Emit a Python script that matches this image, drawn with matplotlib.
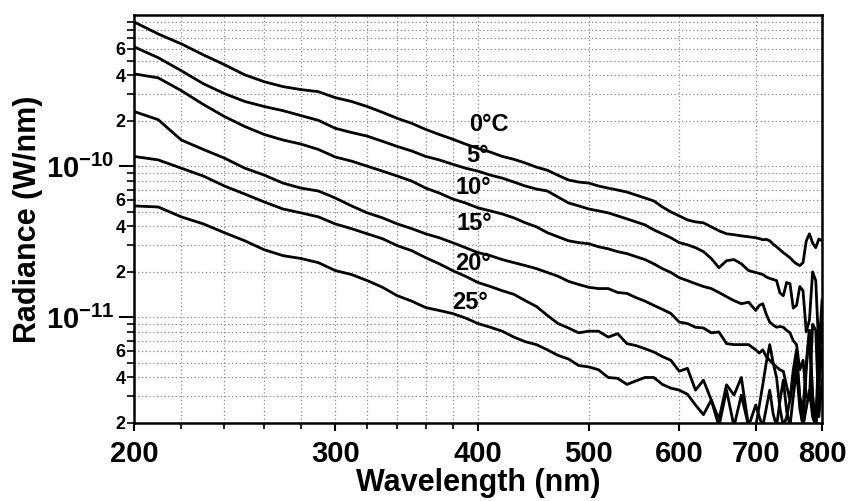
import numpy as np
import matplotlib
matplotlib.use('Agg')
import matplotlib.pyplot as plt
from matplotlib.ticker import FixedLocator, FixedFormatter, NullFormatter

plt.rcParams['font.family'] = ['Liberation Sans', 'DejaVu Sans']
plt.rcParams['font.weight'] = 'bold'
plt.rcParams['mathtext.fontset'] = 'custom'
plt.rcParams['mathtext.rm'] = 'Liberation Sans:bold'
plt.rcParams['mathtext.bf'] = 'Liberation Sans:bold'
plt.rcParams['mathtext.it'] = 'Liberation Sans:bold'

# wavelength grid (nm)
wl = np.array([200, 210, 220, 230, 240, 250, 260, 270, 280, 290,
               300, 310, 320, 330, 340, 350, 360, 370, 380, 390,
               400, 410, 420, 430, 440, 450, 460, 470, 480, 490,
               500, 510, 520, 530, 540, 550, 560, 570, 580, 590,
               600, 610, 620, 630, 640, 650, 660, 670, 680, 690,
               700, 705, 710, 715, 720, 725, 730, 735, 740, 745,
               750, 755, 760, 765, 770, 775, 780, 785, 790, 795, 800])

# radiance in units of 1e-12 W/nm
r0 = [900, 749, 644, 545, 469, 402, 362, 336, 321, 311,
      284, 268, 248, 227, 207, 192, 175, 162, 151, 140,
      131, 124, 116, 111, 105, 98.5, 94, 87, 81, 78.5,
      77.3, 73.9, 71.6, 69.5, 67.4, 64.4, 61.6, 58.9, 53.7, 49.8,
      46.9, 44.1, 42.8, 42.2, 39.7, 37.4, 35.7, 35.2, 34.6, 34.1,
      33.6, 33.2, 32.6, 32.8, 32.1, 30.5, 29.3, 28.0, 26.8, 25.8,
      24.8, 23.5, 22.6, 22.0, 23.0, 32.0, 35.7, 31.0, 28.9, 33.0, 32.1]
r5 = [616, 522, 428, 351, 302, 268, 248, 233, 216, 201,
      178, 167, 158, 146, 135, 126, 116, 110, 103, 97,
      92.7, 87.3, 83.4, 78.5, 73.9, 70.6, 68.5, 62.5, 57.1, 54.6,
      52.1, 50.6, 49.1, 46.9, 44.8, 42.8, 40.9, 37.9, 35.7, 33.6,
      31.2, 30.2, 28.9, 27.2, 24.5, 21.3, 23.7, 24.1, 22.6, 20.4,
      19.8, 19.5, 19.2, 18.5, 18.1, 17.8, 17.5, 14.5, 13.9, 17.0,
      16.7, 11.5, 12.0, 16.0, 15.0, 8.0, 9.6, 20.0, 17.5, 6.0, 12.9]
r10 = [408, 384, 316, 256, 213, 183, 162, 149, 140, 129,
       115, 108, 100, 92.7, 86, 79.7, 71.6, 66.4, 60.7, 57.1,
       53, 50.6, 48.3, 45.5, 42.2, 39.7, 36.3, 34.1, 32.1, 31.2,
       30.7, 29.3, 28.4, 27.2, 26.4, 25.2, 24.1, 22.6, 21.0, 19.8,
       18.3, 17.5, 16.7, 16.0, 15.5, 14.6, 13.7, 12.9, 12.3, 12.6,
       11.1, 12.0, 12.3, 10.5, 9.3, 8.9, 8.6, 8.7, 8.6, 8.2,
       7.9, 7.0, 6.6, 4.5, 5.2, 3.0, 2.84, 9.0, 8.2, 2.2, 3.84]
r15 = [230, 203, 149, 129, 113, 97, 87.3, 77.3, 71.6, 68.5,
       61.6, 54.6, 49.1, 45.5, 41.5, 38.6, 35.7, 33.6, 31.2, 28.9,
       26.8, 25.6, 24.1, 23.0, 22.0, 21.0, 19.8, 18.7, 17.3, 16.5,
       15.8, 15.5, 15.5, 14.6, 14.4, 13.5, 12.8, 12.0, 11.3, 10.6,
       9.3, 9.1, 8.6, 8.5, 7.9, 8.0, 6.7, 6.6, 6.6, 6.6,
       6.1, 5.8, 6.1, 5.5, 5.2, 4.9, 4.7, 4.5, 4.4, 3.5,
       2.84, 4.5, 6.1, 3.0, 2.44, 5.0, 8.2, 3.0, 1.9, 7.0, 5.2]
r20 = [116, 110, 97, 86, 73.9, 65.4, 58, 52.1, 49.1, 46.2,
       41.5, 38.6, 35.7, 33.1, 29.8, 27.6, 24.8, 22.6, 20.4, 18.7,
       17.0, 16.0, 15.0, 14.2, 12.9, 11.8, 10.3, 9.1, 8.5, 7.9,
       8.1, 8.1, 7.4, 7.8, 6.7, 6.5, 6.2, 5.9, 5.5, 5.2,
       4.4, 4.6, 3.3, 3.84, 2.84, 2.11, 3.58, 3.06, 4.0, 1.9,
       1.9, 2.6, 3.58, 5.0, 6.6, 5.0, 4.0, 2.5, 1.9, 2.2,
       2.84, 4.0, 5.2, 2.8, 1.9, 4.5, 8.2, 3.0, 1.9, 5.0, 9.6]
r25 = [54.6, 53.7, 46.2, 41.5, 36.3, 32.1, 28.0, 25.6, 24.5, 23.0,
       20.4, 19.2, 17.5, 15.8, 13.9, 12.8, 11.6, 11.1, 10.6, 9.9,
       9.1, 8.6, 8.1, 7.4, 6.9, 6.6, 6.1, 5.6, 5.3, 4.8,
       4.7, 4.5, 4.0, 3.95, 3.6, 3.8, 4.0, 4.0, 3.6, 3.4,
       3.3, 3.1, 2.63, 2.27, 2.84, 1.9, 3.3, 1.9, 3.06, 1.9,
       2.63, 2.2, 1.9, 2.5, 3.3, 2.3, 1.9, 2.8, 3.84, 2.4,
       1.9, 3.0, 4.5, 2.5, 1.9, 2.5, 3.3, 2.2, 1.9, 3.5, 6.1]

curves = [r0, r5, r10, r15, r20, r25]
labels = ['0°C', '5°', '10°', '15°', '20°', '25°']
label_x = [393, 391, 382, 383, 382, 380]
label_y = [1.89e-10, 1.18e-10, 7.2e-11, 4.2e-11, 2.27e-11, 1.25e-11]

x_major = [200, 300, 400, 500, 600, 700, 800]
x_minor = [220, 240, 260, 280, 320, 340, 360, 380]
y_major = [1e-11, 1e-10]
y_major_lab = [r'$\mathbf{10^{-11}}$', r'$\mathbf{10^{-10}}$']

fig = plt.figure(figsize=(8.51, 5.01), dpi=100)
ax = fig.add_axes([134/851, 1-423/501, (822-134)/851, (423-15)/501])

for r in curves:
    ax.plot(wl, np.array(r)*1e-12, color='black', lw=2.0, solid_joinstyle='round')

for t, x, y in zip(labels, label_x, label_y):
    ax.text(x, y, t, ha='left', va='center', fontsize=17, fontweight='bold')

ax.set_xscale('log')
ax.set_yscale('log')
ax.set_xlim(200, 800)
ax.set_ylim(2e-12, 1e-9)

ax.xaxis.set_major_locator(FixedLocator(x_major))
ax.xaxis.set_major_formatter(FixedFormatter([str(v) for v in x_major]))
ax.xaxis.set_minor_locator(FixedLocator(x_minor))
ax.xaxis.set_minor_formatter(NullFormatter())

y_minor = []
y_minor_lab = []
for dec in [1e-12, 1e-11, 1e-10]:
    for m in range(2, 10):
        y_minor.append(m*dec)
        y_minor_lab.append(str(m) if m in (2, 4, 6) else '')
ax.yaxis.set_major_locator(FixedLocator(y_major))
ax.yaxis.set_major_formatter(FixedFormatter(y_major_lab))
ax.yaxis.set_minor_locator(FixedLocator(y_minor))
ax.yaxis.set_minor_formatter(FixedFormatter(y_minor_lab))

ax.tick_params(axis='x', which='major', labelsize=21, length=6, width=1.5, pad=6)
ax.tick_params(axis='x', which='minor', length=4, width=1.2)
ax.tick_params(axis='y', which='major', labelsize=21, length=11, width=1.5, pad=3)
ax.tick_params(axis='y', which='minor', labelsize=13, length=5, width=1.2, pad=1)

ax.grid(True, which='both', color='0.55', linestyle=(0, (1, 2)), linewidth=0.9)

for s in ax.spines.values():
    s.set_linewidth(1.8)

ax.set_xlabel('Wavelength (nm)', fontsize=22, fontweight='bold', labelpad=0)
ax.set_ylabel('Radiance (W/nm)', fontsize=22, fontweight='bold', labelpad=2)

fig.savefig('out.png', dpi=100)
